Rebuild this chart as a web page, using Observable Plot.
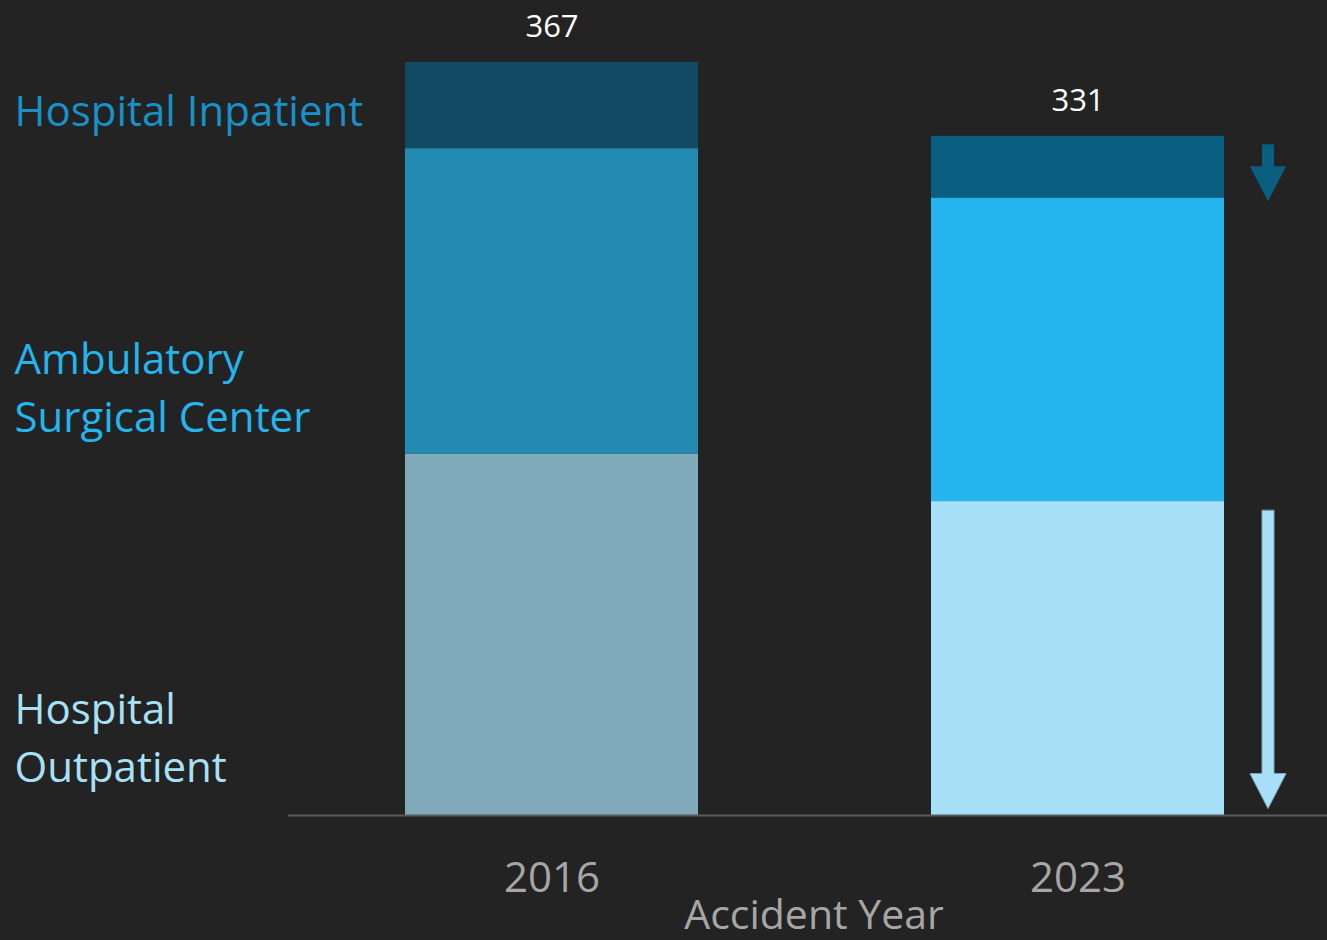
<!DOCTYPE html>
<html><head><meta charset="utf-8">
<script src="https://cdn.jsdelivr.net/npm/d3@7"></script>
<script src="https://cdn.jsdelivr.net/npm/@observablehq/plot@0.6"></script>
<style>html,body{margin:0;padding:0;background:#232323;} #chart{width:1327px;height:940px;}</style>
</head><body><div id="chart"></div>
<script>
const years = ["2016", "2023"];
const segments = ["Hospital Outpatient", "Ambulatory Surgical Center", "Hospital Inpatient"];
const outpatient = [176, 153];
const ambulatory = [149, 148];
const inpatient = [42, 30];
const totals = [367, 331];
const legendLabels = ["Hospital Inpatient", "Ambulatory\nSurgical Center", "Hospital\nOutpatient"];
const axisTitle = "Accident Year";

const palette = {
  "2016": {"Hospital Outpatient": "#80a9b9", "Ambulatory Surgical Center": "#238ab2", "Hospital Inpatient": "#124a63"},
  "2023": {"Hospital Outpatient": "#a8e1f7", "Ambulatory Surgical Center": "#24b4ee", "Hospital Inpatient": "#0a5e80"}
};
const legendColors = ["#1791c8", "#24b4ee", "#a8e1f7"];

const seriesValues = [outpatient, ambulatory, inpatient];
const rows = [];
years.forEach((yr, i) => segments.forEach((s, j) => rows.push({year: yr, segment: s, value: seriesValues[j][i]})));
const totalRows = years.map((yr, i) => ({year: yr, total: totals[i]}));

const blockArrow = {
  draw(context, l) {
    const h = 35, s = 6, w = 18;
    context.moveTo(-s, 0);
    context.lineTo(-s, -(l - h));
    context.lineTo(-w, -(l - h));
    context.lineTo(0, -l);
    context.lineTo(w, -(l - h));
    context.lineTo(s, -(l - h));
    context.lineTo(s, 0);
    context.closePath();
  }
};

const last = years.length - 1;
const lastYear = years[last];
const legendDy = [107, 384, 734];

const marks = [
  Plot.barY(rows, {x: "year", y: "value", fill: d => palette[d.year][d.segment]}),
  Plot.ruleY([0], {stroke: "#5a5a5a", strokeWidth: 2}),
  Plot.text(totalRows, {x: "year", y: "total", text: d => String(d.total), dy: -35, fill: "#ffffff", fontSize: 31, fontFamily: "Open Sans"}),
  Plot.vector([{year: lastYear, v: totals[last]}], {x: "year", y: "v", anchor: "start", rotate: 180, length: 57, shape: blockArrow, fill: palette[lastYear]["Hospital Inpatient"], stroke: "none", dx: 190, dy: 8}),
  Plot.vector([{year: lastYear, v: outpatient[last]}], {x: "year", y: "v", anchor: "start", rotate: 180, length: 298, shape: blockArrow, fill: palette[lastYear]["Hospital Outpatient"], stroke: "#7fa9b9", strokeWidth: 1, dx: 190, dy: 9}),
  Plot.axisX({tickSize: 0, tickPadding: 47, fontSize: 42, color: "#a6a6a6", fontFamily: "'Liberation Sans Narrow', 'Open Sans'", label: null}),
  Plot.text([axisTitle], {text: d => d, frameAnchor: "bottom", dy: 100, dx: 6, fontSize: 41, fill: "#a6a6a6", fontFamily: "Open Sans", lineAnchor: "middle"}),
  ...legendLabels.map((lab, i) => Plot.text([lab], {text: d => d, frameAnchor: "top-left", dx: -274, dy: legendDy[i], textAnchor: "start", lineAnchor: "middle", lineHeight: 1.38, fontSize: 42, fill: legendColors[i], fontFamily: "Open Sans"}))
];

const chart = Plot.plot({
  width: 1327,
  height: 940,
  marginLeft: 288,
  marginRight: 0,
  marginTop: 0,
  marginBottom: 125,
  style: {background: "#232323", fontFamily: "Open Sans"},
  x: {domain: years, range: [405, 1224], paddingInner: 0.443, paddingOuter: 0, axis: null},
  y: {domain: [0, 367], range: [815, 62], axis: null},
  color: {type: "identity"},
  marks
});
document.getElementById("chart").appendChild(chart);
</script>
</body></html>
